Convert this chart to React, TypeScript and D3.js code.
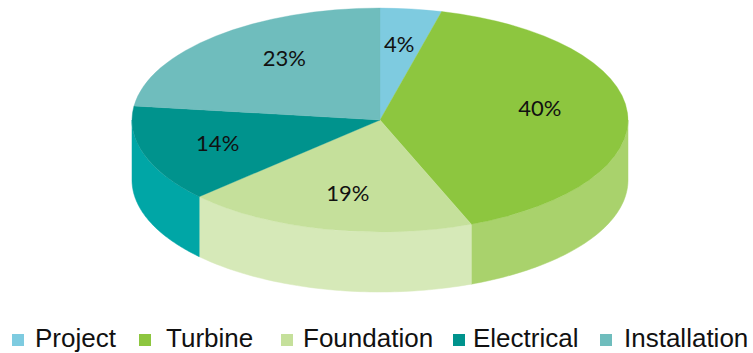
import React from "react";
import * as d3 from "d3";

const categories = ["Project", "Turbine", "Foundation", "Electrical", "Installation"];
const values = [4, 40, 19, 14, 23];
const labels = ["4%", "40%", "19%", "14%", "23%"];
const topColors = ["#7ECBE0", "#8DC63F", "#C5E09B", "#00938D", "#6FBDBD"];
const sideColors = ["#6AB8CE", "#A9D26C", "#D6E9B8", "#00A6A6", "#5FAEAE"];

// label nudges (layout only)
const labelDx = [-1, -1, 3, -9, 11];
const labelDy = [-4, -8, 1, 0, -8];

const W = 753;
const H = 353;
const CX = 380;
const CY = 120;
const RX = 248;
const RY = 112;
const DEPTH = 60;
const LABEL_F = 0.65;

const legendSquareX = [12, 139, 281, 453, 600];
const legendTextX = [35, 166, 303, 473, 624];

const px = (t: number, r = RX) => CX + r * Math.sin(t);
const py = (t: number, r = RY) => CY - r * Math.cos(t);

export default function App() {
  const pie = d3.pie<number>().sort(null).startAngle(0).endAngle(2 * Math.PI);
  const arcs = pie(values);
  const arcGen = d3.arc<d3.PieArcDatum<number>>().innerRadius(0).outerRadius(RX);

  const sides = arcs
    .map((a, i) => {
      const s = Math.max(a.startAngle, Math.PI / 2);
      const e = Math.min(a.endAngle, (3 * Math.PI) / 2);
      if (e <= s) return null;
      const n = 60;
      const ts = d3.range(n + 1).map((k) => s + ((e - s) * k) / n);
      const top = ts.map((t) => [px(t), py(t)] as [number, number]);
      const bottom = ts
        .slice()
        .reverse()
        .map((t) => [px(t), py(t) + DEPTH] as [number, number]);
      const d = d3.line()([...top, ...bottom]) + "Z";
      return { d, i };
    })
    .filter((x) => x !== null) as { d: string; i: number }[];

  return (
    <svg width={W} height={H} style={{ position: "absolute", left: 0, top: 0 }}>
      <rect width={W} height={H} fill="#ffffff" />
      {sides.map((s) => (
        <path key={"s" + s.i} d={s.d} fill={sideColors[s.i]} stroke={sideColors[s.i]} strokeWidth={0.5} />
      ))}
      <g transform={`translate(${CX},${CY}) scale(1,${RY / RX})`}>
        {arcs.map((a, i) => (
          <path key={"t" + i} d={arcGen(a) || ""} fill={topColors[i]} stroke={topColors[i]} strokeWidth={0.5} />
        ))}
      </g>
      {arcs.map((a, i) => {
        const m = (a.startAngle + a.endAngle) / 2;
        return (
          <text
            key={"l" + i}
            x={px(m, RX * LABEL_F) + labelDx[i]}
            y={py(m, RY * LABEL_F) + labelDy[i]}
            textAnchor="middle"
            dominantBaseline="central"
            fontFamily="Lato, 'Open Sans', sans-serif"
            fontSize={22}
            fill="#111"
          >
            {labels[i]}
          </text>
        );
      })}
      {categories.map((c, i) => (
        <g key={"g" + i}>
          <rect x={legendSquareX[i]} y={334} width={12} height={12} fill={topColors[i]} />
          <text
            x={legendTextX[i]}
            y={347}
            fontFamily="'Liberation Sans', Arial, sans-serif"
            fontSize={26}
            fill="#111"
          >
            {c}
          </text>
        </g>
      ))}
    </svg>
  );
}
